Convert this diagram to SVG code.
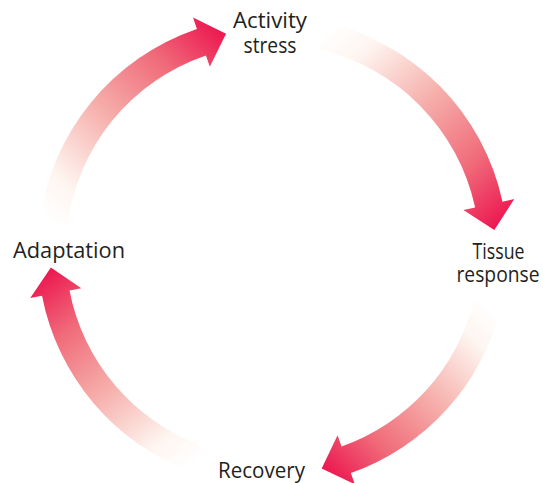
<svg xmlns="http://www.w3.org/2000/svg" width="543" height="483" viewBox="0 0 543 483">
<style>
.lbl{font-family:"Open Sans","Noto Sans","Liberation Sans",sans-serif;font-size:21px;fill:#231f20;text-anchor:middle}
</style>
<defs>
<linearGradient id="g1" gradientUnits="userSpaceOnUse" x1="53.45" y1="224.37" x2="226.03" y2="33.74">
<stop offset="0" stop-color="#ffffff"/><stop offset="0.15" stop-color="#fef5f0"/><stop offset="0.45" stop-color="#f6b0ac"/><stop offset="0.75" stop-color="#f06b7a"/><stop offset="1" stop-color="#ec1750"/>
</linearGradient>
<linearGradient id="g2" gradientUnits="userSpaceOnUse" x1="322.51" y1="35.96" x2="494.30" y2="230.01">
<stop offset="0" stop-color="#ffffff"/><stop offset="0.15" stop-color="#fef5f0"/><stop offset="0.45" stop-color="#f6b0ac"/><stop offset="0.75" stop-color="#f06b7a"/><stop offset="1" stop-color="#ec1750"/>
</linearGradient>
<linearGradient id="g3" gradientUnits="userSpaceOnUse" x1="487.24" y1="304.76" x2="321.69" y2="468.39">
<stop offset="0" stop-color="#ffffff"/><stop offset="0.15" stop-color="#fef5f0"/><stop offset="0.45" stop-color="#f6b0ac"/><stop offset="0.75" stop-color="#f06b7a"/><stop offset="1" stop-color="#ec1750"/>
</linearGradient>
<linearGradient id="g4" gradientUnits="userSpaceOnUse" x1="197.21" y1="458.97" x2="50.87" y2="267.56">
<stop offset="0" stop-color="#ffffff"/><stop offset="0.15" stop-color="#fef5f0"/><stop offset="0.45" stop-color="#f6b0ac"/><stop offset="0.75" stop-color="#f06b7a"/><stop offset="1" stop-color="#ec1750"/>
</linearGradient>
</defs>
<rect width="543" height="483" fill="#ffffff"/>
<g id="connectors">
<path id="c1" fill="url(#g1)" d="M39.55,222.66 A235,235 0 0 1 196.90,28.89 L193.03,17.54 L226.03,33.74 L209.82,66.75 L205.95,55.39 A207,207 0 0 0 67.34,226.07 Z"/>
<path id="c2" fill="url(#g2)" d="M325.66,22.32 A235,235 0 0 1 502.49,201.64 L514.22,199.10 L494.30,230.01 L463.40,210.09 L475.13,207.56 A207,207 0 0 0 319.36,49.61 Z"/>
<path id="c3" fill="url(#g3)" d="M500.82,308.15 A235,235 0 0 1 350.86,472.96 L354.84,484.28 L321.69,468.39 L337.57,435.23 L341.56,446.55 A207,207 0 0 0 473.65,301.38 Z"/>
<path id="c4" fill="url(#g4)" d="M192.43,472.13 A235,235 0 0 1 42.04,295.74 L30.26,298.01 L50.87,267.56 L81.32,288.17 L69.53,290.44 A207,207 0 0 0 202.00,445.82 Z"/>
</g>
<g id="node-activity"><text class="lbl" x="270" y="28" textLength="74" lengthAdjust="spacingAndGlyphs">Activity</text><text class="lbl" x="270" y="53" textLength="53" lengthAdjust="spacingAndGlyphs">stress</text></g>
<g id="node-tissue"><text class="lbl" x="498.5" y="259" textLength="52" lengthAdjust="spacingAndGlyphs">Tissue</text><text class="lbl" x="498" y="282" textLength="83" lengthAdjust="spacingAndGlyphs">response</text></g>
<g id="node-recovery"><text class="lbl" x="261.5" y="478" textLength="87" lengthAdjust="spacingAndGlyphs">Recovery</text></g>
<g id="node-adaptation"><text class="lbl" x="69" y="258" textLength="112" lengthAdjust="spacingAndGlyphs">Adaptation</text></g>
</svg>
